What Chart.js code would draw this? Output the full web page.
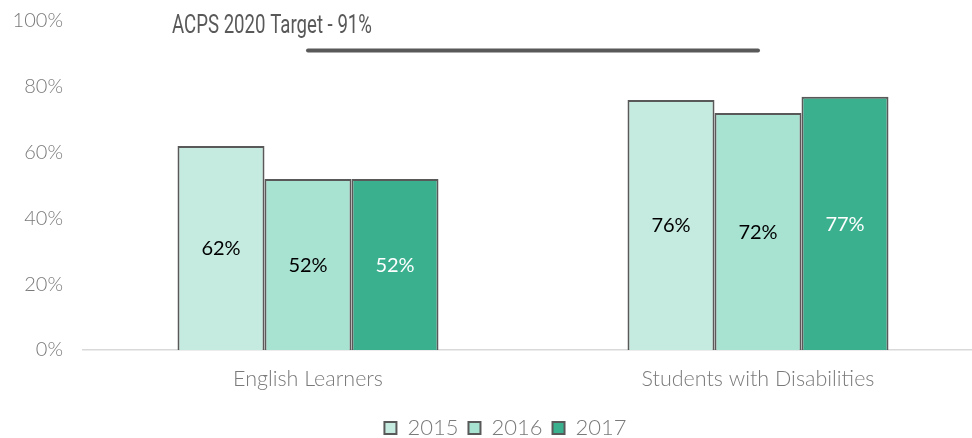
<!DOCTYPE html>
<html>
<head>
<meta charset="utf-8">
<script src="https://cdn.jsdelivr.net/npm/chart.js@4"></script>
<style>
  html, body { margin: 0; padding: 0; background: #fff; overflow: hidden; }
  /* plot runs past the right and bottom edge of the window, like the original */
  #wrap { width: 983px; height: 449px; position: relative; }
</style>
</head>
<body>
<div id="wrap"><canvas id="chart"></canvas></div>
<script>
const categories = ['English Learners', 'Students with Disabilities'];
const years = ['2015', '2016', '2017'];
const values2015 = [62, 76];
const values2016 = [52, 72];
const values2017 = [52, 77];
const target = [91, 91];
const targetLabel = 'ACPS 2020 Target - 91%';
const yTicks = [0, 20, 40, 60, 80, 100];

const fills = ['#C5EBE0', '#A8E2D1', '#3BB08F'];
const labelColors = ['#000', '#000', '#fff'];
const grey = '#595959';
const tickGrey = '#7a7a7a';

// value labels in the middle of each bar + the target caption
const barLabels = {
    id: 'barLabels',
    afterLayout(chart) {
        // legend sits a little right of centre in the original
        chart.legend.left += 14;
        chart.legend.right += 14;
    },
    afterDatasetsDraw(chart) {
        const ctx = chart.ctx;
        ctx.save();
        ctx.font = '20px Lato';
        ctx.textAlign = 'center';
        ctx.textBaseline = 'middle';
        chart.data.datasets.forEach((ds, i) => {
            if (ds.type === 'line') return;
            chart.getDatasetMeta(i).data.forEach((bar, j) => {
                ctx.fillStyle = labelColors[i];
                ctx.fillText(ds.data[j] + '%', bar.x, (bar.y + bar.base) / 2 + 1);
            });
        });
        // caption is a condensed face in the original, squeeze it to the same width
        ctx.font = '26px Roboto';
        ctx.fillStyle = grey;
        ctx.textAlign = 'left';
        const sx = 200 / ctx.measureText(targetLabel).width;
        ctx.translate(172, 26);
        ctx.scale(sx, 1);
        ctx.fillText(targetLabel, 0, 0);
        ctx.restore();
    }
};

const datasets = years.map((y, i) => ({
    type: 'bar',
    label: y,
    data: [values2015, values2016, values2017][i],
    backgroundColor: fills[i],
    borderColor: grey,
    borderWidth: 2,
    borderSkipped: 'bottom',
    categoryPercentage: 0.58,
    barPercentage: 1,
    order: 2
}));
datasets.push({
    type: 'line',
    label: 'Target',
    data: target,
    borderColor: grey,
    borderWidth: 4,
    borderCapStyle: 'round',
    pointRadius: 0,
    order: 1
});

new Chart(document.getElementById('chart'), {
    type: 'bar',
    data: { labels: categories, datasets: datasets },
    options: {
        responsive: true,
        maintainAspectRatio: false,
        animation: false,
        layout: { padding: { top: 21, right: 0, left: 0, bottom: 0 } },
        plugins: {
            tooltip: { enabled: false },
            legend: {
                position: 'bottom',
                labels: {
                    filter: item => item.text !== 'Target',
                    boxWidth: 12,
                    boxHeight: 12,
                    color: tickGrey,
                    font: { family: 'Lato', size: 22, weight: '300' },
                    padding: 10
                }
            }
        },
        scales: {
            x: {
                grid: { display: false, drawTicks: false },
                border: { color: '#d9d9d9', width: 1.5 },
                afterFit: axis => { axis.height = 57; },
                ticks: { color: tickGrey, font: { family: 'Lato', size: 21.5, weight: '300' }, padding: 16 }
            },
            y: {
                min: 0,
                max: 100,
                afterBuildTicks: axis => { axis.ticks = yTicks.map(v => ({ value: v })); },
                afterFit: axis => {
                    axis.width = 83;
                    axis.paddingTop = 0;
                    axis.paddingBottom = 0;
                },
                grid: { display: false, drawTicks: false },
                border: { display: false },
                ticks: {
                    color: tickGrey,
                    font: { family: 'Lato', size: 20, weight: '300' },
                    padding: 20,
                    callback: v => v + '%'
                }
            }
        }
    },
    plugins: [barLabels]
});
</script>
</body>
</html>
